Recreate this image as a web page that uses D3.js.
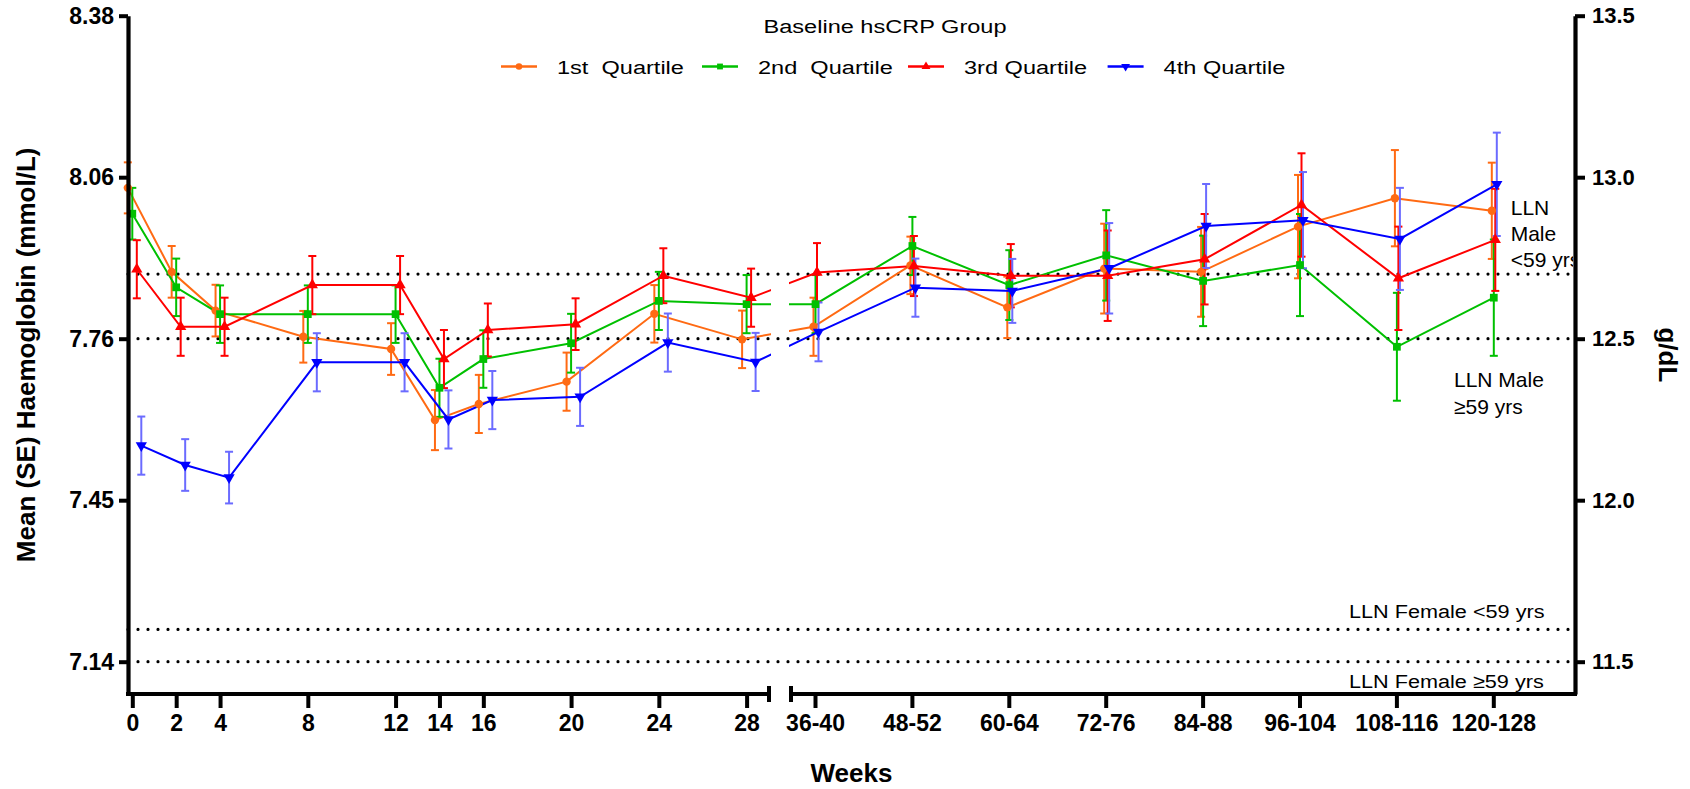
<!DOCTYPE html>
<html><head><meta charset="utf-8">
<script src="https://cdn.jsdelivr.net/npm/d3@7"></script>
<style>
body{margin:0;background:#fff}
text{font-family:"Liberation Sans", Arial, Helvetica, sans-serif;fill:#000}
</style>
</head><body>
<svg id="chart" width="1690" height="789"></svg>
<script>
// ---------- data (Hb in g/dL) ----------
const weeks = [0, 2, 4, 8, 12, 14, 16, 20, 24, 28];
const periods = ["36-40", "48-52", "60-64", "72-76", "84-88", "96-104", "108-116", "120-128"];
const seriesNames = ["1st  Quartile", "2nd  Quartile", "3rd Quartile", "4th Quartile"];
const legendTitle = "Baseline hsCRP Group";

const q1Mean = [12.967, 12.707, 12.587, 12.506, 12.468, 12.248, 12.298, 12.367, 12.577, 12.498, 12.537, 12.727, 12.597, 12.717, 12.707, 12.847, 12.935, 12.896];
const q1SE   = [0.079, 0.080, 0.080, 0.080, 0.080, 0.093, 0.090, 0.090, 0.089, 0.089, 0.090, 0.089, 0.095, 0.139, 0.139, 0.160, 0.149, 0.149];
const q2Mean = [12.887, 12.659, 12.576, 12.576, 12.576, 12.348, 12.437, 12.486, 12.617, 12.607, 12.607, 12.787, 12.666, 12.758, 12.679, 12.728, 12.475, 12.627];
const q2SE   = [0.080, 0.089, 0.089, 0.089, 0.089, 0.090, 0.089, 0.091, 0.090, 0.090, 0.090, 0.090, 0.108, 0.140, 0.140, 0.158, 0.167, 0.180];
const q3Mean = [12.715, 12.537, 12.537, 12.666, 12.666, 12.437, 12.527, 12.545, 12.695, 12.627, 12.705, 12.725, 12.695, 12.695, 12.746, 12.914, 12.687, 12.806];
const q3SE   = [0.090, 0.090, 0.090, 0.090, 0.090, 0.090, 0.082, 0.080, 0.085, 0.090, 0.091, 0.093, 0.098, 0.140, 0.140, 0.160, 0.160, 0.158];
const q4Mean = [12.169, 12.109, 12.070, 12.427, 12.427, 12.250, 12.310, 12.320, 12.488, 12.428, 12.521, 12.658, 12.648, 12.718, 12.849, 12.867, 12.809, 12.978];
const q4SE   = [0.090, 0.080, 0.080, 0.090, 0.090, 0.090, 0.090, 0.090, 0.090, 0.090, 0.091, 0.090, 0.099, 0.140, 0.130, 0.149, 0.158, 0.160];

const gdlTicks = [11.5, 12.0, 12.5, 13.0, 13.5];
const mmolTickLabels = ["7.14", "7.45", "7.76", "8.06", "8.38"];
const refLines = [12.7, 12.5, 11.6, 11.5];

// ---------- layout ----------
const svg = d3.select("#chart");
const L = 128, R = 1575, T = 15.7, B = 694;
const gapL = 771, gapR = 789;
const colors = ["#ff6a13", "#00c000", "#ff0000", "#0000ff"];
const errColors = ["#ff6a13", "#00c000", "#ff0000", "#6b6bff"];
const offL = [-4.5, 0, 4.5, 9];
const offR = [-1.5, 0.5, 2, 3.5];

const y = d3.scaleLinear().domain([11.4, 13.5]).range([B, T]);
const xw = d3.scaleLinear().domain([0, 28]).range([132.3, 746.6]);
const xp = d3.scalePoint().domain(periods).range([815, 1493.3]);

const means = [q1Mean, q2Mean, q3Mean, q4Mean];
const ses = [q1SE, q2SE, q3SE, q4SE];
const nW = weeks.length;
function xPos(i, s) {
  return i < nW ? xw(weeks[i]) + offL[s] : xp(periods[i - nW]) + offR[s];
}
const series = means.map((m, s) => m.map((v, i) => ({ s, i, v, se: ses[s][i], x: xPos(i, s) })));

// clip for gap
const defs = svg.append("defs");
const cp = defs.append("clipPath").attr("id", "gapclip");
cp.append("rect").attr("x", 0).attr("y", 0).attr("width", gapL).attr("height", 789);
cp.append("rect").attr("x", gapR).attr("y", 0).attr("width", 1690 - gapR).attr("height", 789);
defs.append("clipPath").attr("id", "plotclip").append("rect")
  .attr("x", L).attr("y", 0).attr("width", R - L - 2).attr("height", B);

// reference dotted lines
svg.append("g").selectAll("line").data(refLines).join("line")
  .attr("x1", L).attr("x2", R).attr("y1", d => y(d)).attr("y2", d => y(d))
  .attr("stroke", "#000").attr("stroke-width", 3.2).attr("stroke-linecap", "round")
  .attr("stroke-dasharray", "0,10");

// annotations
function stext(g, x, yy, txt, size, sx, anchor, weight) {
  return g.append("text")
    .attr("transform", `translate(${x},${yy}) scale(${sx},1)`)
    .attr("text-anchor", anchor || "start")
    .style("font-size", size + "px")
    .style("font-weight", weight || "normal")
    .style("white-space", "pre")
    .text(txt);
}
const ann = svg.append("g").attr("clip-path", "url(#plotclip)");
stext(ann, 1510.7, 215, "LLN", 21, 1, "start");
stext(ann, 1510.7, 241, "Male", 21, 1, "start");
stext(ann, 1510.7, 267, "<59 yrs", 21, 1, "start");
stext(ann, 1454, 387, "LLN Male", 21, 1, "start");
stext(ann, 1454, 413.5, "\u226559 yrs", 21, 1, "start");
stext(ann, 1349, 618, "LLN Female <59 yrs", 19, 1.14, "start");
stext(ann, 1349, 688, "LLN Female \u226559 yrs", 19, 1.14, "start");

// series
const line = d3.line().x(d => d.x).y(d => y(d.v));
const plot = svg.append("g");
series.forEach((data, s) => {
  const g = plot.append("g");
  const eb = g.append("g").attr("stroke", errColors[s]).attr("stroke-width", 2).attr("fill", "none");
  eb.selectAll("line.v").data(data).join("line").attr("class", "v")
    .attr("x1", d => d.x).attr("x2", d => d.x)
    .attr("y1", d => y(d.v + d.se)).attr("y2", d => y(d.v - d.se));
  eb.selectAll("line.t").data(data).join("line").attr("class", "t")
    .attr("x1", d => d.x - 4).attr("x2", d => d.x + 4)
    .attr("y1", d => y(d.v + d.se)).attr("y2", d => y(d.v + d.se));
  eb.selectAll("line.b").data(data).join("line").attr("class", "b")
    .attr("x1", d => d.x - 4).attr("x2", d => d.x + 4)
    .attr("y1", d => y(d.v - d.se)).attr("y2", d => y(d.v - d.se));
  g.append("path").datum(data).attr("d", line)
    .attr("fill", "none").attr("stroke", colors[s]).attr("stroke-width", 2)
    .attr("clip-path", "url(#gapclip)");
});
const symTypes = [d3.symbolCircle, d3.symbolSquare, d3.symbolTriangle, d3.symbolTriangle];
const symSizes = [55, 60, 55, 55];
const symRot = [0, 0, 0, 180];
series.forEach((data, s) => {
  plot.append("g").selectAll("path").data(data).join("path")
    .attr("d", d3.symbol().type(symTypes[s]).size(symSizes[s]))
    .attr("transform", d => `translate(${d.x},${y(d.v)}) rotate(${symRot[s]})`)
    .attr("fill", colors[s]);
});

// axes
function styleAxis(g, fs) {
  g.select(".domain").attr("stroke", "#000").attr("stroke-width", 4.2);
  g.selectAll(".tick line").attr("stroke", "#000").attr("stroke-width", 4);
  g.selectAll(".tick text").style("font-size", fs + "px").style("font-weight", "bold")
    .style("font-family", "'Liberation Sans', Arial, sans-serif").attr("fill", "#000");
}
const yl = svg.append("g").attr("transform", `translate(${L},0)`)
  .call(d3.axisLeft(y).tickValues(gdlTicks).tickFormat((d, i) => mmolTickLabels[i])
    .tickSize(9).tickSizeOuter(0).tickPadding(5));
styleAxis(yl, 23);
const yr = svg.append("g").attr("transform", `translate(${R},0)`)
  .call(d3.axisRight(y).tickValues(gdlTicks).tickFormat(d3.format(".1f"))
    .tickSize(10).tickSizeOuter(0).tickPadding(7));
styleAxis(yr, 22);

const xl = svg.append("g").attr("transform", `translate(0,${B})`)
  .call(d3.axisBottom(xw).tickValues(weeks).tickFormat(d3.format("d")).tickSize(14).tickPadding(7));
xl.select(".domain").remove();
styleAxis(xl, 23);
const xr = svg.append("g").attr("transform", `translate(0,${B})`)
  .call(d3.axisBottom(xp).tickSize(14).tickPadding(7));
xr.select(".domain").remove();
styleAxis(xr, 23);
// axis baselines with break
const ax = svg.append("g").attr("stroke", "#000");
ax.append("line").attr("x1", L - 2).attr("x2", gapL - 1).attr("y1", B).attr("y2", B).attr("stroke-width", 4.2);
ax.append("line").attr("x1", gapR + 1).attr("x2", R + 2).attr("y1", B).attr("y2", B).attr("stroke-width", 4.2);
ax.append("line").attr("x1", gapL - 2).attr("x2", gapL - 2).attr("y1", B - 8).attr("y2", B + 8).attr("stroke-width", 4);
ax.append("line").attr("x1", gapR + 2).attr("x2", gapR + 2).attr("y1", B - 8).attr("y2", B + 8).attr("stroke-width", 4);

// axis titles
svg.append("text").attr("transform", `translate(${(L + R) / 2},782)`)
  .attr("text-anchor", "middle").style("font-size", "26px").style("font-weight", "bold").text("Weeks");
svg.append("text").attr("transform", `translate(35,${(T + B) / 2}) rotate(-90)`)
  .attr("text-anchor", "middle").style("font-size", "26px").style("font-weight", "bold")
  .text("Mean (SE) Haemoglobin (mmol/L)");
svg.append("text").attr("transform", `translate(1659,${(T + B) / 2}) rotate(90)`)
  .attr("text-anchor", "middle").style("font-size", "26px").style("font-weight", "bold").text("g/dL");

// legend
const lg = svg.append("g");
stext(lg, 885, 33, legendTitle, 19, 1.24, "middle");
const legX = [501, 702, 908, 1107.6];
seriesNames.forEach((name, s) => {
  const x0 = legX[s], yy = 66.5;
  lg.append("line").attr("x1", x0).attr("x2", x0 + 36).attr("y1", yy).attr("y2", yy)
    .attr("stroke", colors[s]).attr("stroke-width", 2.5);
  lg.append("path").attr("d", d3.symbol().type(symTypes[s]).size(34))
    .attr("transform", `translate(${x0 + 18},${yy}) rotate(${symRot[s]})`).attr("fill", colors[s]);
  stext(lg, x0 + 56, 74, name, 19, 1.24, "start");
});
</script>
</body></html>
